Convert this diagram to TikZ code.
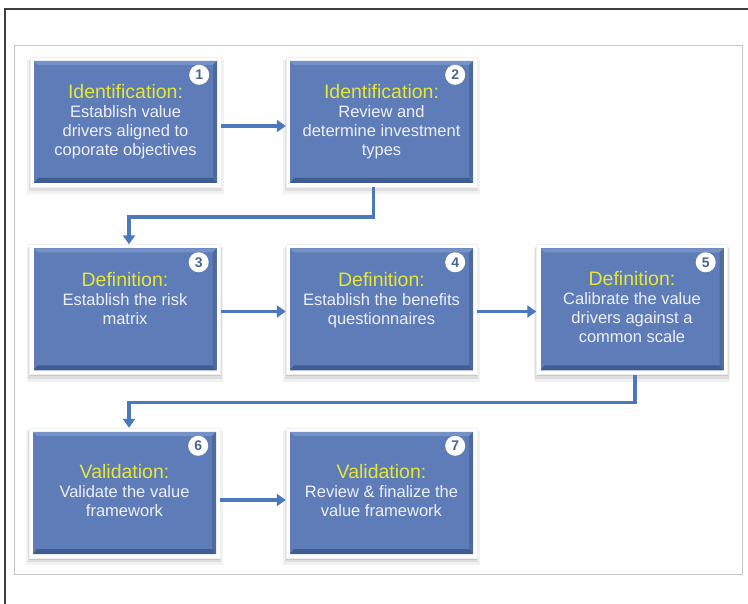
\documentclass[tikz,border=0pt]{standalone}
\usepackage{fontspec}
\setmainfont{Liberation Sans}
\usetikzlibrary{arrows.meta, shadows}

\definecolor{boxblue}{HTML}{5E7DB8}
\definecolor{boxdark}{HTML}{3F5C93}
\definecolor{boxlight}{HTML}{7691C6}
\definecolor{flowblue}{HTML}{4C79BC}
\definecolor{titleyellow}{HTML}{E6E635}
\definecolor{bodywhite}{HTML}{EEF0F6}

\newcommand{\stepname}[1]{\textcolor{titleyellow}{\fontsize{19.5}{20}\selectfont #1}}

\begin{document}
\begin{tikzpicture}[x=1pt, y=-1pt,
    stepbox/.style={minimum width=191pt, minimum height=130pt, inner sep=0pt,
        fill=white, draw=black!6,
        general shadow={shadow xshift=0pt, shadow yshift=-5pt, shadow scale=1.03,
            fill=black, opacity=0.05},
        general shadow={shadow xshift=0pt, shadow yshift=-3pt, shadow scale=1.015,
            fill=black, opacity=0.08},
        general shadow={shadow xshift=0pt, shadow yshift=-1.5pt,
            fill=black, opacity=0.1},
        path picture={
            \coordinate (pSW) at ([shift={(4pt,4pt)}]path picture bounding box.south west);
            \coordinate (pNE) at ([shift={(-4pt,-4pt)}]path picture bounding box.north east);
            \fill[boxblue] (pSW) rectangle (pNE);
            \fill[boxlight] (pSW |- pNE) -- (pNE) -- ([shift={(-4pt,-4pt)}]pNE)
                -- ([shift={(4pt,-4pt)}]pSW |- pNE) -- cycle;
            \fill[boxblue!85!black] (pSW -| pNE) -- (pNE) -- ([shift={(-4pt,-4pt)}]pNE)
                -- ([shift={(-4pt,5pt)}]pSW -| pNE) -- cycle;
            \fill[boxdark] (pSW) -- (pSW -| pNE) -- ([shift={(-4pt,5pt)}]pSW -| pNE)
                -- ([shift={(4pt,5pt)}]pSW) -- cycle;
        }},
    steptext/.style={anchor=north, align=center, inner sep=0pt, text=bodywhite,
        font=\fontsize{16.5}{19}\selectfont},
    numdot/.style={circle, fill=white, minimum size=20pt, inner sep=0pt,
        text=boxblue!80!black, font=\bfseries\fontsize{14}{14}\selectfont},
    flow/.style={draw=flowblue, line width=3.5pt,
        -{Triangle[length=9pt, width=12pt]}}]

    % Cadre
    \useasboundingbox (0,0) rectangle (748,604);
    \draw[line width=1.5pt, black!75] (748,9) -- (5,9) -- (5,604);
    \draw[gray!45, fill=white!99!gray] (14,45) rectangle (742,574);

    % Etapes
    \node[stepbox] (b1) at (125.5,122) {};
    \node[stepbox] (b2) at (381.5,122) {};
    \node[stepbox] (b3) at (125,309.5) {};
    \node[stepbox] (b4) at (381.5,309.5) {};
    \node[stepbox] (b5) at (632,309.5) {};
    \node[stepbox] (b6) at (124.5,493) {};
    \node[stepbox] (b7) at (381.5,493) {};

    % Textes
    \node[steptext] (t1) at ([yshift=-27pt]b1.north)
        {\stepname{Identification:}\\ Establish value\\ drivers aligned to\\ coporate objectives};
    \node[steptext] (t2) at ([yshift=-27pt]b2.north)
        {\stepname{Identification:}\\ Review and\\ determine investment\\ types};
    \node[steptext] (t3) at ([yshift=-28pt]b3.north)
        {\stepname{Definition:}\\ Establish the risk\\ matrix};
    \node[steptext] (t4) at ([yshift=-28pt]b4.north)
        {\stepname{Definition:}\\ Establish the benefits\\ questionnaires};
    \node[steptext] (t5) at ([yshift=-27pt]b5.north)
        {\stepname{Definition:}\\ Calibrate the value\\ drivers against a\\ common scale};
    \node[steptext] (t6) at ([yshift=-36pt]b6.north)
        {\stepname{Validation:}\\ Validate the value\\ framework};
    \node[steptext] (t7) at ([yshift=-36pt]b7.north)
        {\stepname{Validation:}\\ Review \& finalize the\\ value framework};

    % Numeros
    \foreach \i in {1,...,7}
        \node[numdot] (n\i) at ([xshift=-22pt, yshift=-18pt]b\i.north east) {\i};

    % Fleches
    \draw[flow] ([yshift=-4pt]b1.east) -- ([yshift=-4pt]b2.west);
    \draw[flow] ([xshift=-8pt]b2.south) -- ++(0,30) -| ([xshift=4pt]b3.north);
    \draw[flow] ([yshift=-2pt]b3.east) -- ([yshift=-2pt]b4.west);
    \draw[flow] ([yshift=-2pt]b4.east) -- ([yshift=-2pt]b5.west);
    \draw[flow] ([xshift=3pt]b5.south) -- ++(0,28) -| ([xshift=4.5pt]b6.north);
    \draw[flow] ([yshift=-7pt]b6.east) -- ([yshift=-7pt]b7.west);
\end{tikzpicture}
\end{document}
